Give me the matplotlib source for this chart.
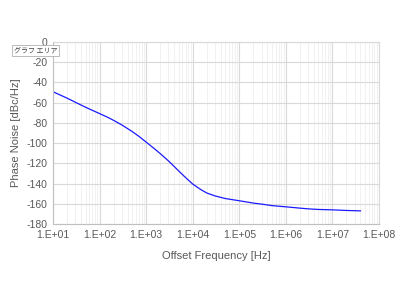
import matplotlib
matplotlib.use("Agg")
import matplotlib.pyplot as plt
import numpy as np
from matplotlib.ticker import LogLocator, FixedLocator, NullFormatter

freq = [1e1, 2e1, 3e1, 5e1, 1e2, 1.5e2, 2e2, 3e2, 5e2, 7e2, 1e3, 1.5e3, 2e3, 3e3, 5e3, 7e3,
        1e4, 1.5e4, 2e4, 3e4, 5e4, 1e5, 2e5, 3e5, 5e5, 1e6, 2e6, 3e6, 5e6, 1e7, 2e7, 4e7]
noise = [-49.2, -55.5, -59.5, -64.5, -70.8, -74.5, -77.5, -82, -88.5, -93.3, -99, -105.5, -110.3,
         -117.5, -127.5, -134, -140.5, -146, -149.3, -152.2, -154.8, -157, -159.3, -160.3, -161.8,
         -163, -164.3, -165, -165.6, -166, -166.6, -167]
xticks = [1e1, 1e2, 1e3, 1e4, 1e5, 1e6, 1e7, 1e8]
xticklabels = ["1.E+01", "1.E+02", "1.E+03", "1.E+04", "1.E+05", "1.E+06", "1.E+07", "1.E+08"]
yticks = list(range(-180, 1, 20))

plt.rcParams['font.family'] = ['Liberation Sans', 'DejaVu Sans']
fig = plt.figure(figsize=(4, 3), dpi=100)
ax = fig.add_axes([0.1325, 0.2533, 0.815, 0.6067])
ax.set_xscale('log')
ax.plot(freq, noise, color='#1a1aff', lw=0.9)
ax.set_xlim(1e1, 1e8)
ax.set_ylim(-180, 0)
ax.xaxis.set_major_locator(FixedLocator(xticks))
ax.set_xticklabels(xticklabels)
ax.xaxis.set_minor_locator(LogLocator(base=10, subs=np.arange(2, 10), numticks=20))
ax.xaxis.set_minor_formatter(NullFormatter())
ax.set_yticks(yticks)
ax.set_yticklabels([str(v) for v in yticks])
ax.grid(which='major', color='#d9d9d9', lw=0.8)
ax.grid(which='minor', axis='x', color='#efefef', lw=0.6)
ax.set_axisbelow(True)
for s in ax.spines.values():
    s.set_color('#d9d9d9')
    s.set_linewidth(0.8)
ax.spines['left'].set_color('#bfbfbf')
ax.spines['bottom'].set_color('#bfbfbf')
ax.tick_params(which='both', length=0, labelsize=7.5, colors='#595959', pad=4)
ax.set_xlabel('Offset Frequency [Hz]', fontsize=8, color='#595959', labelpad=8)
ax.set_ylabel('Phase Noise [dBc/Hz]', fontsize=8, color='#595959', labelpad=4)
fig.text(0.035, 0.831, 'グラフ エリア', fontsize=5, color='#404040',
         family=['Noto Sans CJK JP', 'DejaVu Sans'], va='center', ha='left',
         bbox=dict(boxstyle='square,pad=0.25', fc='white', ec='#a0a0a0', lw=0.5))
fig.savefig('out.png', dpi=100)
